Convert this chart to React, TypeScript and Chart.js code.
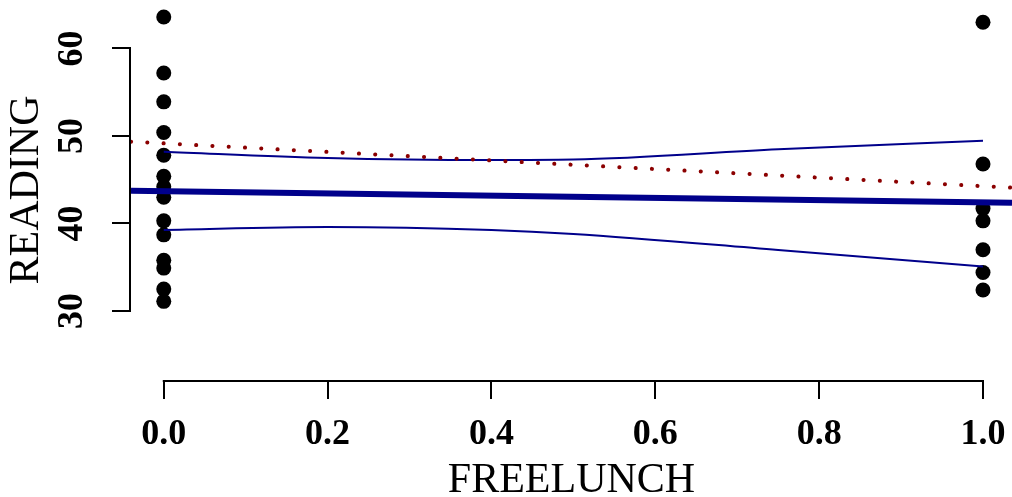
import React, { useEffect, useRef } from "react";
import { Chart, registerables } from "chart.js";

Chart.register(...registerables);

// Observed READING scores at FREELUNCH = 0 and FREELUNCH = 1
const readingNoLunch = [63.6, 57.2, 53.9, 50.4, 47.8, 45.4, 44.2, 43.0, 40.3, 38.7, 35.8, 34.9, 32.5, 31.1];
const readingFreeLunch = [63.0, 46.8, 41.7, 40.3, 37.0, 34.4, 32.4];

// Fitted line (thick) and dotted reference line, read at the plot edges
const fitX = [-0.04, 1.0354];
const fitY = [43.75, 42.38];
const dotY = [49.35, 44.09];

// Band curves
const bandX = [0, 0.2, 0.4, 0.5, 0.75, 1.0];
const bandUpper = [48.21, 47.49, 47.26, 47.31, 48.48, 49.46];
const bandLower = [39.26, 39.6, 39.26, 38.8, 36.97, 35.09];

const xTicks = [0, 0.2, 0.4, 0.6, 0.8, 1.0];
const yTicks = [30, 40, 50, 60];

const FONT = "'Liberation Serif', 'Times New Roman', serif";

export default function App() {
  const ref = useRef<HTMLCanvasElement | null>(null);

  useEffect(() => {
    document.body.style.margin = "0";
    const canvas = ref.current;
    if (!canvas) return;

    const axisLines = {
      id: "axisLines",
      afterDraw(chart: any) {
        const { ctx, chartArea, scales } = chart;
        const xs = scales.x;
        const ys = scales.y;
        ctx.save();
        ctx.strokeStyle = "#000";
        ctx.lineWidth = 2;
        ctx.beginPath();
        ctx.moveTo(xs.getPixelForValue(xTicks[0]) - 1, chartArea.bottom + 1);
        ctx.lineTo(xs.getPixelForValue(xTicks[xTicks.length - 1]) + 1, chartArea.bottom + 1);
        ctx.moveTo(chartArea.left - 1, ys.getPixelForValue(yTicks[0]) + 1);
        ctx.lineTo(chartArea.left - 1, ys.getPixelForValue(yTicks[yTicks.length - 1]) - 1);
        ctx.stroke();
        ctx.restore();
      },
    };

    const chart = new Chart(canvas, {
      type: "scatter",
      data: {
        datasets: [
          {
            data: readingNoLunch.map((y) => ({ x: 0, y })),
            backgroundColor: "#000",
            borderColor: "#000",
            pointRadius: 7.5,
            borderWidth: 0,
            order: 10,
            clip: false as any,
          },
          {
            data: readingFreeLunch.map((y) => ({ x: 1, y })),
            backgroundColor: "#000",
            borderColor: "#000",
            pointRadius: 7.5,
            borderWidth: 0,
            order: 10,
            clip: false as any,
          },
          {
            data: bandX.map((x, i) => ({ x, y: bandUpper[i] })),
            showLine: true,
            borderColor: "#00008B",
            borderWidth: 2,
            pointRadius: 0,
            cubicInterpolationMode: "monotone",
            order: 2,
          },
          {
            data: bandX.map((x, i) => ({ x, y: bandLower[i] })),
            showLine: true,
            borderColor: "#00008B",
            borderWidth: 2,
            pointRadius: 0,
            cubicInterpolationMode: "monotone",
            order: 2,
          },
          {
            data: fitX.map((x, i) => ({ x, y: dotY[i] })),
            showLine: true,
            borderColor: "#8B0000",
            borderWidth: 4,
            borderDash: [0.1, 16.2],
            borderCapStyle: "round",
            pointRadius: 0,
            order: 1,
          },
          {
            data: fitX.map((x, i) => ({ x, y: fitY[i] })),
            showLine: true,
            borderColor: "#00008B",
            borderWidth: 6,
            pointRadius: 0,
            order: 0,
          },
        ],
      },
      options: {
        animation: false,
        responsive: false,
        devicePixelRatio: 1,
        layout: { padding: 0, autoPadding: false },
        plugins: {
          legend: { display: false },
          tooltip: { enabled: false },
        },
        scales: {
          x: {
            type: "linear",
            min: -0.04,
            max: 1.0354,
            afterFit: (s: any) => {
              s.height = 117;
              s.paddingLeft = 0;
              s.paddingRight = 0;
              s.paddingTop = 0;
              s.paddingBottom = 0;
            },
            afterBuildTicks: (s: any) => {
              s.ticks = xTicks.map((v) => ({ value: v }));
            },
            border: { display: false },
            grid: {
              display: true,
              drawOnChartArea: false,
              drawTicks: true,
              tickLength: 19,
              color: "#000",
              lineWidth: 2,
            },
            ticks: {
              padding: 14,
              color: "#000",
              autoSkip: false,
              maxRotation: 0,
              font: { family: FONT, size: 36, weight: "bold" },
              callback: (v: any) => Number(v).toFixed(1),
            },
            title: {
              display: true,
              text: "FREELUNCH",
              color: "#000",
              font: { family: FONT, size: 42, weight: "normal", lineHeight: 1 },
              padding: { top: 0, bottom: -5 },
            },
          },
          y: {
            type: "linear",
            min: 22.11,
            max: 65.54,
            afterFit: (s: any) => {
              s.width = 131;
              s.paddingLeft = 0;
              s.paddingRight = 0;
              s.paddingTop = 0;
              s.paddingBottom = 0;
            },
            afterBuildTicks: (s: any) => {
              s.ticks = yTicks.map((v) => ({ value: v }));
            },
            border: { display: false },
            grid: {
              display: true,
              drawOnChartArea: false,
              drawTicks: true,
              tickLength: 19,
              color: "#000",
              lineWidth: 2,
            },
            ticks: {
              padding: 21.5,
              color: "#000",
              autoSkip: false,
              minRotation: 90,
              maxRotation: 90,
              crossAlign: "center",
              font: { family: FONT, size: 36, weight: "bold" },
              callback: (v: any) => String(v),
            },
            title: {
              display: true,
              text: "READING",
              color: "#000",
              font: { family: FONT, size: 42, weight: "normal", lineHeight: 1 },
              padding: { top: 5.7, bottom: 0 },
            },
          },
        },
      },
      plugins: [axisLines],
    } as any);

    return () => chart.destroy();
  }, []);

  return (
    <canvas
      ref={ref}
      width={1012}
      height={497}
      style={{ display: "block", position: "fixed", left: 0, top: 0, width: 1012, height: 497 }}
    />
  );
}
